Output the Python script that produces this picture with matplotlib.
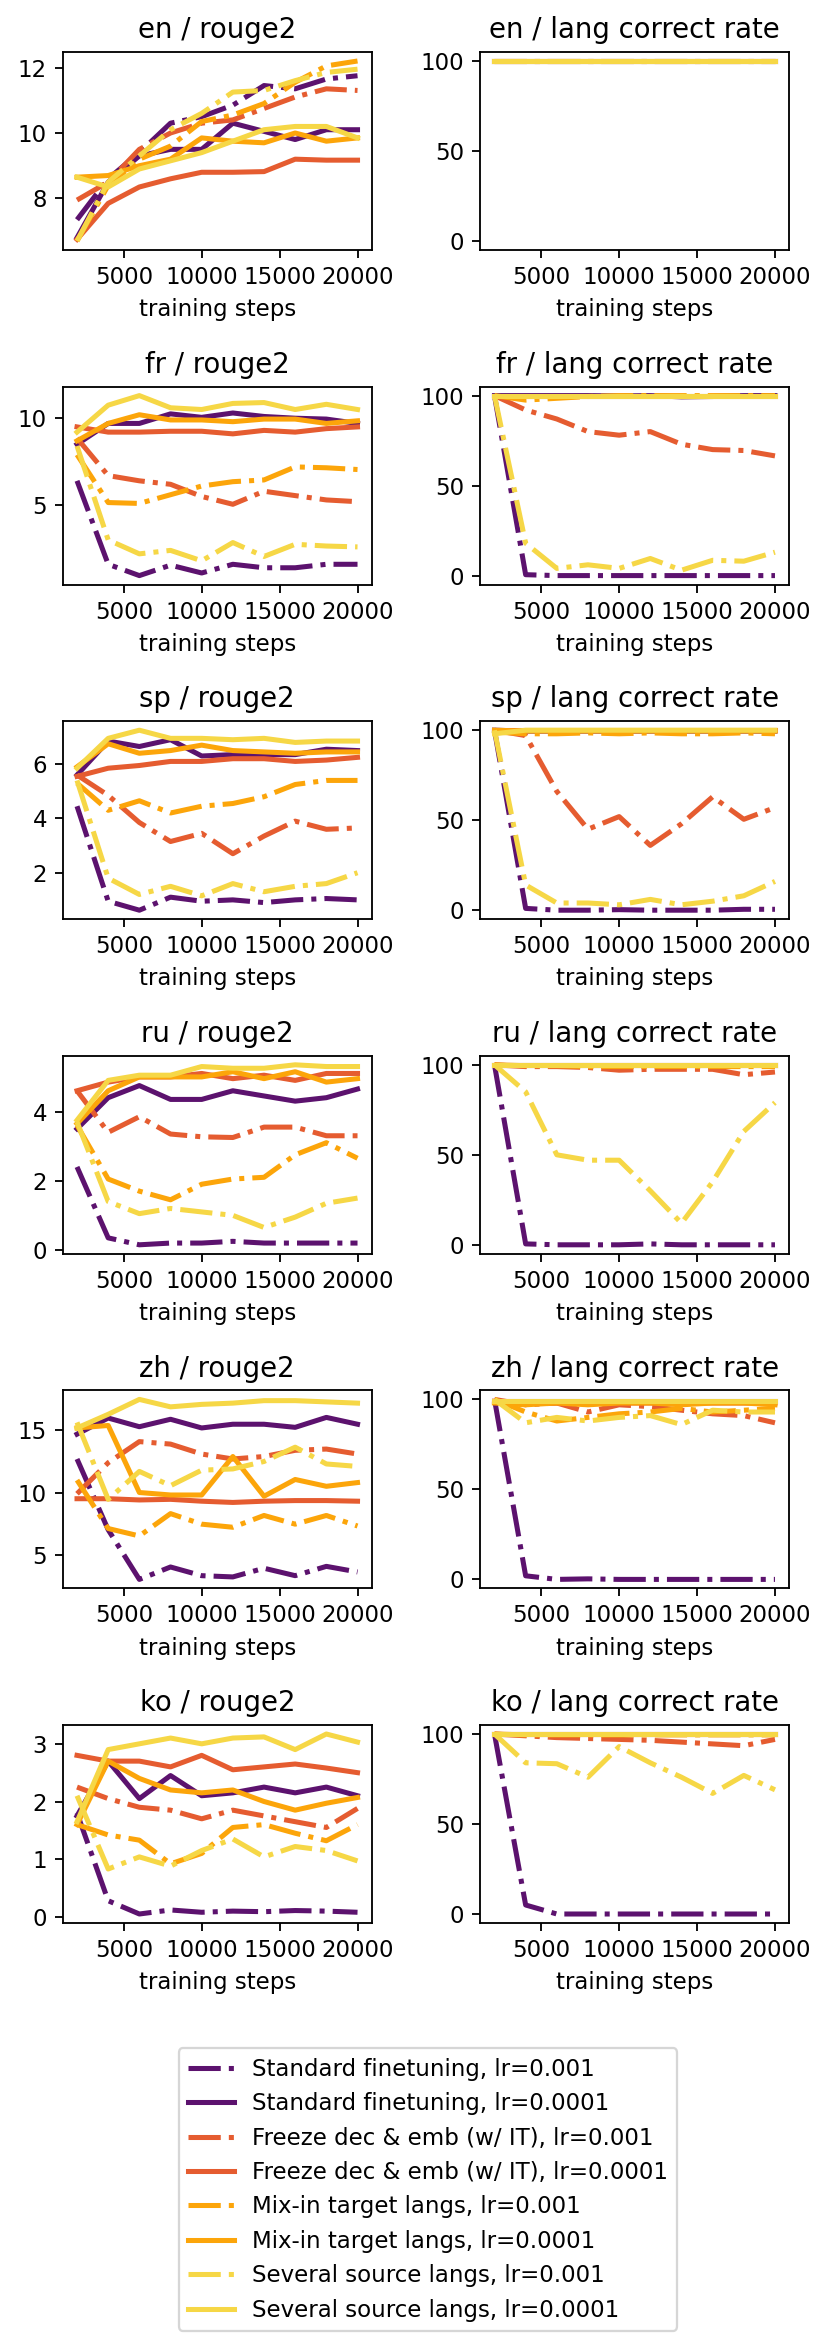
import matplotlib
matplotlib.use("Agg")
import matplotlib.pyplot as plt

# training steps at which each run was evaluated
steps = [2000, 4000, 6000, 8000, 10000, 12000, 14000, 16000, 18000, 20000]

labels = [
    "Standard finetuning, lr=0.001",
    "Standard finetuning, lr=0.0001",
    "Freeze dec & emb (w/ IT), lr=0.001",
    "Freeze dec & emb (w/ IT), lr=0.0001",
    "Mix-in target langs, lr=0.001",
    "Mix-in target langs, lr=0.0001",
    "Several source langs, lr=0.001",
    "Several source langs, lr=0.0001",
]
colors = ["#5c126e", "#5c126e", "#e55c30", "#e55c30",
          "#fca50a", "#fca50a", "#f6d746", "#f6d746"]
styles = ["-.", "-", "-.", "-", "-.", "-", "-.", "-"]

langs = ["en", "fr", "sp", "ru", "zh", "ko"]
full = [100] * 10

# rouge2 per language, one row per run (same order as labels)
en_rouge2 = [
    [7.35, 8.6, 9.4, 10.3, 10.5, 10.85, 11.45, 11.35, 11.65, 11.75],
    [6.8, 8.5, 9.3, 9.5, 9.5, 10.3, 10.05, 9.8, 10.1, 10.1],
    [7.95, 8.5, 9.5, 10.0, 10.3, 10.4, 10.75, 11.1, 11.35, 11.3],
    [6.75, 7.85, 8.35, 8.6, 8.8, 8.8, 8.82, 9.2, 9.17, 9.17],
    [6.7, 8.4, 9.2, 9.6, 10.35, 10.55, 10.9, 11.55, 12.05, 12.2],
    [8.65, 8.7, 9.0, 9.2, 9.85, 9.75, 9.7, 10.0, 9.75, 9.85],
    [6.7, 8.5, 9.3, 10.1, 10.6, 11.25, 11.3, 11.6, 11.85, 11.95],
    [8.65, 8.35, 8.9, 9.15, 9.4, 9.75, 10.1, 10.2, 10.2, 9.85],
]
fr_rouge2 = [
    [6.4, 1.6, 0.95, 1.55, 1.1, 1.6, 1.4, 1.4, 1.6, 1.6],
    [8.5, 9.7, 9.7, 10.25, 10.05, 10.3, 10.1, 10.0, 9.95, 9.7],
    [8.85, 6.7, 6.4, 6.2, 5.5, 5.05, 5.8, 5.55, 5.3, 5.2],
    [9.5, 9.2, 9.2, 9.25, 9.25, 9.1, 9.3, 9.2, 9.4, 9.5],
    [7.9, 5.15, 5.1, 5.6, 6.1, 6.35, 6.45, 7.2, 7.15, 7.05],
    [8.7, 9.7, 10.2, 9.9, 9.9, 9.8, 9.95, 9.95, 9.7, 9.85],
    [8.4, 3.0, 2.2, 2.4, 1.8, 2.85, 2.05, 2.75, 2.65, 2.6],
    [9.2, 10.75, 11.3, 10.6, 10.5, 10.85, 10.9, 10.5, 10.8, 10.5],
]
sp_rouge2 = [
    [4.45, 0.95, 0.62, 1.1, 0.95, 1.0, 0.9, 1.0, 1.05, 1.0],
    [5.6, 6.85, 6.65, 6.9, 6.3, 6.35, 6.35, 6.35, 6.55, 6.5],
    [5.6, 4.85, 3.85, 3.15, 3.45, 2.7, 3.35, 3.9, 3.6, 3.65],
    [5.55, 5.85, 5.95, 6.1, 6.1, 6.2, 6.2, 6.1, 6.15, 6.25],
    [5.3, 4.3, 4.65, 4.2, 4.45, 4.55, 4.8, 5.25, 5.4, 5.4],
    [5.9, 6.75, 6.4, 6.5, 6.7, 6.5, 6.45, 6.4, 6.45, 6.45],
    [5.4, 1.8, 1.2, 1.5, 1.15, 1.6, 1.3, 1.5, 1.6, 2.0],
    [5.85, 6.95, 7.25, 6.95, 6.95, 6.9, 6.95, 6.8, 6.85, 6.85],
]
ru_rouge2 = [
    [2.4, 0.35, 0.15, 0.2, 0.2, 0.25, 0.2, 0.2, 0.2, 0.2],
    [3.5, 4.4, 4.75, 4.35, 4.35, 4.6, 4.45, 4.3, 4.4, 4.65],
    [4.6, 3.4, 3.85, 3.35, 3.27, 3.25, 3.55, 3.55, 3.3, 3.3],
    [4.6, 4.85, 5.0, 5.0, 5.1, 4.95, 5.05, 4.9, 5.1, 5.1],
    [3.6, 2.05, 1.7, 1.45, 1.9, 2.05, 2.1, 2.75, 3.1, 2.65],
    [3.65, 4.6, 5.0, 5.0, 5.0, 5.15, 4.95, 5.15, 4.85, 4.95],
    [3.7, 1.4, 1.05, 1.2, 1.1, 1.0, 0.65, 0.95, 1.35, 1.5],
    [3.75, 4.9, 5.05, 5.05, 5.3, 5.25, 5.25, 5.35, 5.3, 5.3],
]
zh_rouge2 = [
    [12.7, 7.0, 3.0, 4.0, 3.3, 3.2, 3.9, 3.3, 4.05, 3.6],
    [14.7, 16.0, 15.3, 15.9, 15.2, 15.5, 15.5, 15.25, 16.05, 15.5],
    [9.9, 12.4, 14.1, 13.9, 13.1, 12.7, 12.9, 13.4, 13.5, 13.1],
    [9.5, 9.5, 9.4, 9.45, 9.3, 9.2, 9.3, 9.35, 9.35, 9.3],
    [11.0, 7.1, 6.5, 8.3, 7.45, 7.2, 8.15, 7.45, 8.15, 7.3],
    [15.2, 15.4, 10.0, 9.8, 9.8, 12.9, 9.7, 11.05, 10.5, 10.8],
    [15.65, 9.45, 11.7, 10.55, 11.8, 11.9, 12.5, 13.65, 12.3, 12.1],
    [15.2, 16.3, 17.5, 16.9, 17.1, 17.2, 17.4, 17.4, 17.3, 17.2],
]
ko_rouge2 = [
    [1.8, 0.28, 0.05, 0.12, 0.08, 0.1, 0.09, 0.11, 0.1, 0.08],
    [1.75, 2.7, 2.05, 2.45, 2.1, 2.15, 2.25, 2.15, 2.25, 2.1],
    [2.25, 2.05, 1.9, 1.85, 1.7, 1.85, 1.75, 1.65, 1.55, 1.88],
    [2.8, 2.7, 2.7, 2.6, 2.8, 2.55, 2.6, 2.65, 2.58, 2.5],
    [1.6, 1.42, 1.33, 0.92, 1.1, 1.55, 1.6, 1.45, 1.32, 1.6],
    [1.6, 2.7, 2.4, 2.2, 2.15, 2.2, 2.0, 1.85, 1.97, 2.07],
    [2.1, 0.83, 1.04, 0.88, 1.15, 1.35, 1.04, 1.22, 1.15, 0.97],
    [1.65, 2.9, 3.0, 3.1, 3.0, 3.1, 3.12, 2.9, 3.17, 3.03],
]

# language correct rate (%) per language
en_lang = [full, full, full, full, full, full, full, full]
fr_lang = [
    [100, 0.5, 0, 0, 0, 0, 0, 0, 0, 0],
    [100, 100, 100, 100, 99.8, 100, 99.3, 99.5, 100, 100],
    [100, 92, 87, 80, 78, 80, 73, 70, 69.5, 66.5],
    full,
    [100, 97.5, 98.5, 99.5, 100, 100, 100, 100, 100, 100],
    full,
    [100, 18, 4, 6, 4, 9.5, 3, 8.5, 8, 13],
    full,
]
sp_lang = [
    [100, 1, 0, 0, 0.3, 0, 0, 0, 0.5, 0.5],
    [100, 99.5, 99.5, 99.5, 99.5, 99.5, 99.5, 99.5, 99.5, 99.5],
    [100, 97, 66, 45, 52, 36, 48, 63, 50.5, 57],
    full,
    [99, 98, 98, 98.5, 98, 98.5, 98, 98, 98.5, 98],
    [100, 99.5, 99.5, 99.5, 99.5, 99.5, 99.5, 99.5, 99.5, 99.5],
    [100, 14, 4, 4, 3, 6, 3, 5, 8, 16],
    [98, 100, 100, 100, 100, 100, 100, 100, 100, 100],
]
ru_lang = [
    [100, 0.5, 0, 0, 0, 0.5, 0, 0, 0, 0],
    full,
    [100, 99, 99, 98.5, 97, 97.5, 97.5, 97.5, 94.5, 96],
    full,
    [100, 99.5, 99.5, 99, 99, 99, 99, 99, 99, 99],
    full,
    [100, 85, 50, 47, 47, 30, 12, 35, 63, 79],
    full,
]
zh_lang = [
    [100, 2, 0, 0.3, 0, 0, 0, 0, 0, 0],
    [99, 99, 99, 99, 99, 99, 99, 99, 99, 99],
    [100, 97, 98, 93, 97, 96, 94, 92, 91, 87],
    [99, 98, 98, 98, 98, 98, 98, 98, 98, 98],
    [100, 93, 88, 90, 92, 93, 95, 93, 94, 95],
    [98, 97, 98, 97, 98, 98, 97, 98, 98, 97],
    [100, 87, 90, 88, 90, 91, 86, 94, 93, 93],
    [99, 99, 99, 99, 99, 99, 99, 99, 99, 99],
]
ko_lang = [
    [100, 5, 0, 0, 0, 0, 0, 0, 0, 0],
    full,
    [100, 99, 98, 97.5, 97, 96.5, 95.5, 94.5, 93.5, 97],
    full,
    [100, 99.5, 99.5, 99.5, 99.5, 99.5, 99.5, 99.5, 99.5, 99.5],
    full,
    [100, 84, 83.5, 76, 93, 84, 76, 67, 77, 69],
    full,
]

rouge2 = [en_rouge2, fr_rouge2, sp_rouge2, ru_rouge2, zh_rouge2, ko_rouge2]
lang_rate = [en_lang, fr_lang, sp_lang, ru_lang, zh_lang, ko_lang]

fig, axes = plt.subplots(6, 2, figsize=(830 / 165, 2336 / 165))
fig.subplots_adjust(left=63 / 830, right=789 / 830, top=1 - 52 / 2336,
                    bottom=1 - 1923 / 2336, wspace=0.353, hspace=0.69)

for row, lang in enumerate(langs):
    ax_r, ax_l = axes[row]
    for i in range(len(labels)):
        ax_r.plot(steps, rouge2[row][i], color=colors[i], ls=styles[i],
                  lw=2.2, label=labels[i])
        ax_l.plot(steps, lang_rate[row][i], color=colors[i], ls=styles[i],
                  lw=2.2, label=labels[i])
    ax_r.set_title(f"{lang} / rouge2")
    ax_l.set_title(f"{lang} / lang correct rate")
    ax_l.set_ylim(-5, 105)
    ax_l.set_yticks([0, 50, 100])
    for ax in (ax_r, ax_l):
        ax.set_xlabel("training steps")
        ax.set_xticks([5000, 10000, 15000, 20000])

handles, labs = axes[0, 0].get_legend_handles_labels()
fig.legend(handles, labs, loc="upper center",
           bbox_to_anchor=(428 / 830, 1 - 2037 / 2336))

fig.savefig("out.png", dpi=165)
